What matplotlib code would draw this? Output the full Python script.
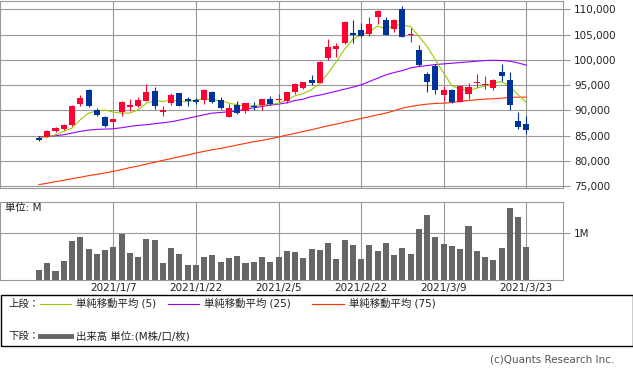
import matplotlib
matplotlib.use('Agg')
import matplotlib.pyplot as plt
from matplotlib.lines import Line2D
from matplotlib.patches import Rectangle

plt.rcParams['font.family'] = ['DejaVu Sans', 'Noto Sans CJK JP']

# daily prices 2020/12/23 - 2021/3/23 (60 sessions)
opens = [84480, 84740, 85860, 86250, 87040, 91320, 94080, 90130, 88620, 87760,
         89610, 90590, 90920, 91910, 93880, 89610, 91450, 93490, 92300, 91970,
         92100, 93680, 92100, 88620, 91120, 89930, 90920, 91050, 92300, 92100,
         91780, 93550, 94470, 96050, 95520, 100390, 102230, 103350, 105320, 105920,
         105060, 108480, 107890, 106110, 110060, 104860, 101970, 97230, 98810, 92960,
         94140, 91710, 93290, 95330, 95000, 94340, 97630, 96050, 87960, 87370]
highs = [84870, 86050, 86650, 87240, 91120, 93090, 94270, 90460, 88950, 88360,
         91780, 92300, 92700, 95260, 94670, 90920, 93490, 93490, 92570, 92370,
         94210, 93750, 92700, 91320, 91910, 91510, 91710, 92300, 92890, 93160,
         93680, 95460, 95720, 97040, 99730, 104140, 103420, 107690, 107890, 107300,
         108420, 109860, 108550, 108090, 110720, 106310, 102960, 97700, 99210, 94930,
         94210, 94870, 95460, 97230, 96840, 96250, 99210, 97630, 89740, 88950]
lows = [83880, 84670, 85660, 86050, 86970, 90920, 90660, 88950, 86650, 86510,
        88820, 89800, 90590, 91780, 90330, 88820, 91120, 90790, 90920, 91320,
        91320, 91380, 90330, 88620, 89340, 89540, 90130, 90130, 91120, 91710,
        91510, 93350, 94210, 95060, 95390, 100000, 100590, 103220, 103420, 104540,
        104800, 107100, 104930, 105520, 104540, 103550, 98810, 93550, 93160, 91780,
        91510, 91710, 92300, 94670, 94210, 94080, 95850, 90130, 86380, 85400]
closes = [84150, 85990, 86450, 87040, 90920, 92500, 90920, 89010, 86840, 88360,
          91710, 91120, 92100, 93680, 90790, 90130, 93090, 90920, 91780, 91710,
          94080, 91710, 90530, 90530, 89540, 91510, 90720, 92300, 91320, 92300,
          93680, 95260, 95660, 95460, 99600, 102560, 102760, 107490, 104930, 104730,
          107100, 109600, 104930, 107890, 104600, 105130, 99010, 95720, 94140, 94080,
          91580, 94870, 94670, 95520, 95260, 96050, 96840, 90990, 86780, 86190]

ma5 = [84672, 84738, 85199, 85857, 86514, 88158, 89473, 89934, 90066, 89671,
       89473, 89473, 90131, 91447, 91907, 91775, 92039, 91842, 91710, 92104,
       92302, 92104, 91907, 91447, 91118, 90789, 90986, 91052, 91250, 91381,
       92104, 92894, 93354, 94077, 95392, 97362, 99667, 102101, 104074, 104929,
       105587, 106705, 106113, 106902, 106902, 106573, 104600, 102627, 99997, 97362,
       94866, 94208, 93946, 94406, 94866, 95392, 95721, 94735, 93090, 91578]
ma25 = [84804, 84870, 85001, 85199, 85527, 85856, 86120, 86251, 86317, 86382,
        86580, 86843, 87040, 87172, 87369, 87566, 87763, 88092, 88421, 88816,
        89144, 89473, 89605, 89736, 89868, 90263, 90526, 90789, 91052, 91250,
        91513, 91973, 92236, 92762, 93026, 93420, 93815, 94210, 94604, 95064,
        95722, 96379, 97037, 97497, 97892, 98418, 98681, 98878, 99075, 99207,
        99339, 99470, 99602, 99733, 99865, 99931, 99865, 99733, 99404, 98944]
ma75 = [75332, 75595, 75924, 76187, 76516, 76779, 77108, 77372, 77635, 77963,
        78292, 78687, 79016, 79410, 79739, 80134, 80463, 80857, 81186, 81581,
        81910, 82239, 82502, 82831, 83160, 83488, 83817, 84080, 84409, 84738,
        85133, 85462, 85856, 86185, 86580, 86974, 87303, 87698, 88027, 88421,
        88750, 89145, 89473, 89934, 90460, 90789, 91052, 91250, 91381, 91447,
        91578, 91776, 91973, 92104, 92236, 92302, 92433, 92565, 92631, 92631]

# volume in millions
volume = [0.21, 0.36, 0.19, 0.40, 0.84, 0.91, 0.67, 0.55, 0.64, 0.70,
          0.98, 0.57, 0.49, 0.88, 0.86, 0.36, 0.68, 0.55, 0.32, 0.32,
          0.49, 0.53, 0.38, 0.47, 0.51, 0.36, 0.38, 0.49, 0.38, 0.49,
          0.62, 0.60, 0.47, 0.66, 0.64, 0.79, 0.45, 0.85, 0.74, 0.45,
          0.74, 0.62, 0.79, 0.53, 0.68, 0.55, 1.09, 1.40, 0.91, 0.77,
          0.72, 0.66, 1.15, 0.62, 0.49, 0.43, 0.68, 1.55, 1.34, 0.70]

tick_pos = [9, 19, 29, 39, 49, 59]
tick_labels = ['2021/1/7', '2021/1/22', '2021/2/5', '2021/2/22', '2021/3/9', '2021/3/23']
price_ticks = [75000, 80000, 85000, 90000, 95000, 100000, 105000, 110000]

RED = '#ff0033'
BLUE = '#003399'
GRID = '#999999'
TXT = '#222222'
W, H = 633, 372

fig = plt.figure(figsize=(W / 100, H / 100), dpi=100)
ax = fig.add_axes([0, 1 - 188 / H, 563 / W, 187.5 / H])
axv = fig.add_axes([0, 1 - 280 / H, 563 / W, 78 / H])

x = list(range(len(closes)))
colors = [RED if c >= o else BLUE for o, c in zip(opens, closes)]
bottoms = [min(o, c) for o, c in zip(opens, closes)]
heights = [max(abs(c - o), 200) for o, c in zip(opens, closes)]

for a in (ax, axv):
    a.set_xlim(-4.72, 63.44)
    a.set_xticks(tick_pos)
    a.grid(True, color=GRID, linewidth=0.8)
    a.set_axisbelow(True)
    for s in a.spines.values():
        s.set_color(GRID)
        s.set_linewidth(0.8)
    a.yaxis.tick_right()
    a.tick_params(axis='x', length=0)
    a.tick_params(axis='y', length=5, width=0.8, color=GRID, labelsize=7.5, labelcolor=TXT, pad=3)

ax.plot(x, ma75, color='#ff3300', linewidth=0.8)
ax.plot(x, ma25, color='#9900ff', linewidth=0.8)
ax.plot(x, ma5, color='#99cc00', linewidth=0.8)
ax.vlines(x, lows, highs, colors=colors, linewidth=0.8, zorder=3)
ax.bar(x, heights, bottom=bottoms, width=0.73, color=colors, linewidth=0, zorder=4)
ax.set_ylim(74664, 111740)
ax.set_yticks(price_ticks)
ax.set_yticklabels(['{:,}'.format(v) for v in price_ticks])
ax.set_xticklabels([])

axv.bar(x, volume, width=0.73, color='#666666', linewidth=0)
axv.set_ylim(0, 1.67)
axv.set_yticks([1])
axv.set_yticklabels(['1M'])
axv.set_xticklabels(tick_labels, fontsize=7.5, color=TXT)
axv.tick_params(axis='x', pad=2)
axv.text(5 / 563, 1 - 6 / 78, '単位: M', transform=axv.transAxes, fontsize=7.5,
         color=TXT, va='center', ha='left')

# legend box
fig.patches.append(Rectangle((0.5 / W, 1 - 346 / H), 632 / W, 51 / H, transform=fig.transFigure,
                             fill=False, edgecolor='black', linewidth=1))
y1 = 1 - 303.7 / H
y2 = 1 - 336 / H
fig.text(8 / W, y1, '上段：', fontsize=7.5, color=TXT, va='center')
for x0, x1, xt, col, lab in [(40, 71, 76, '#99cc00', '単純移動平均 (5)'),
                             (168, 199, 204, '#9900ff', '単純移動平均 (25)'),
                             (312, 344, 349, '#ff3300', '単純移動平均 (75)')]:
    fig.lines.append(Line2D([x0 / W, x1 / W], [y1, y1], transform=fig.transFigure, color=col, linewidth=0.8))
    fig.text(xt / W, y1, lab, fontsize=7.5, color=TXT, va='center')
fig.text(8 / W, y2, '下段：', fontsize=7.5, color=TXT, va='center')
fig.lines.append(Line2D([40 / W, 71 / W], [y2, y2], transform=fig.transFigure, color='#666666', linewidth=3.5))
fig.text(76 / W, y2, '出来高 単位:(M株/口/枚)', fontsize=7.5, color=TXT, va='center')

fig.text(614 / W, 1 - 359 / H, '(c)Quants Research Inc.', fontsize=7.5, color='#555555',
         ha='right', va='center')

fig.savefig('out.png', dpi=100)
